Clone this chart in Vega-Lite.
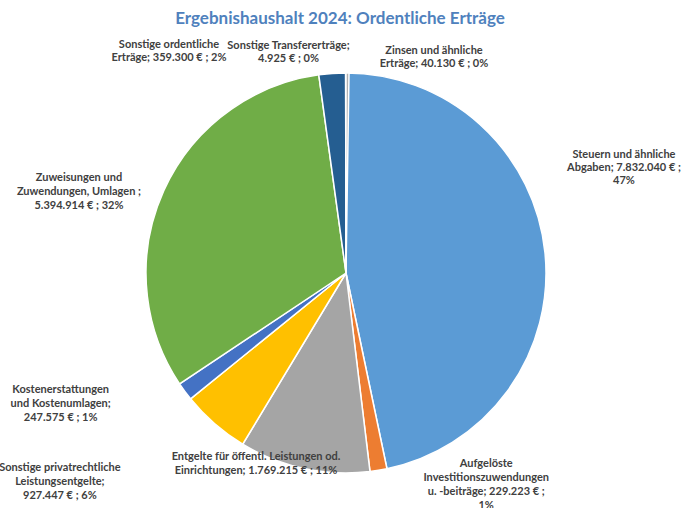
{
  "$schema": "https://vega.github.io/schema/vega-lite/v6.json",
  "width": 670,
  "height": 470,
  "autosize": {"type": "none"},
  "padding": {"left": 11, "right": 0, "top": 38, "bottom": 0},
  "background": "white",
  "title": {
    "text": "Ergebnishaushalt 2024: Ordentliche Erträge",
    "font": "Lato",
    "fontSize": 17,
    "fontWeight": "bold",
    "color": "#4F81BD",
    "offset": 10,
    "anchor": "middle",
    "frame": "group",
    "dx": -6
  },
  "config": {"view": {"stroke": null}},
  "data": {
    "values": [
      {"name": "Steuern", "value": 7832040, "order": 1, "label": "Steuern und ähnliche\nAbgaben;  7.832.040 € ;\n47%"},
      {"name": "Aufgelöste", "value": 229223, "order": 2, "label": "Aufgelöste\nInvestitionszuwendungen\nu. -beiträge;  229.223 € ;\n1%"},
      {"name": "Entgelte", "value": 1769215, "order": 3, "label": "Entgelte für öffentl. Leistungen od.\nEinrichtungen;  1.769.215 € ; 11%"},
      {"name": "Privatrechtlich", "value": 927447, "order": 4, "label": "Sonstige privatrechtliche\nLeistungsentgelte;\n927.447 € ; 6%"},
      {"name": "Kostenerstattungen", "value": 247575, "order": 5, "label": "Kostenerstattungen\nund Kostenumlagen;\n247.575 € ; 1%"},
      {"name": "Zuweisungen", "value": 5394914, "order": 6, "label": "Zuweisungen und\nZuwendungen, Umlagen ;\n5.394.914 € ; 32%"},
      {"name": "Sonstige ordentliche", "value": 359300, "order": 7, "label": "Sonstige ordentliche\nErträge;  359.300 € ; 2%"},
      {"name": "Transfer", "value": 4925, "order": 8, "label": "Sonstige Transfererträge;\n4.925 € ; 0%"},
      {"name": "Zinsen", "value": 40130, "order": 9, "label": "Zinsen und ähnliche\nErträge;  40.130 € ; 0%"}
    ]
  },
  "transform": [
    {"stack": "value", "groupby": [], "sort": [{"field": "order", "order": "ascending"}], "as": ["v0", "v1"]}
  ],
  "encoding": {
    "theta": {"field": "v0", "type": "quantitative", "stack": null}
  },
  "layer": [
    {
      "mark": {"type": "arc", "outerRadius": 200, "stroke": "white", "strokeWidth": 1.5},
      "encoding": {
        "theta2": {"field": "v1"},
        "color": {
          "field": "name",
          "type": "nominal",
          "legend": null,
          "scale": {
            "domain": ["Steuern", "Aufgelöste", "Entgelte", "Privatrechtlich", "Kostenerstattungen", "Zuweisungen", "Sonstige ordentliche", "Transfer", "Zinsen"],
            "range": ["#5B9BD5", "#ED7D31", "#A5A5A5", "#FFC000", "#4472C4", "#70AD47", "#255E91", "#9E480E", "#B0B0B0"]
          }
        }
      }
    },
    {
      "transform": [{"filter": "datum.name === 'Steuern'"}],
      "mark": {"type": "text", "radius": 250, "dx": 278, "dy": 132, "font": "Lato", "fontSize": 11, "fontWeight": "bold", "color": "#404040", "lineBreak": "\n", "lineHeight": 13, "align": "center", "baseline": "middle"},
      "encoding": {"text": {"field": "label"}}
    },
    {
      "transform": [{"filter": "datum.name === 'Aufgelöste'"}],
      "mark": {"type": "text", "radius": 250, "dx": 89, "dy": -54, "font": "Lato", "fontSize": 11, "fontWeight": "bold", "color": "#404040", "lineBreak": "\n", "lineHeight": 14, "align": "center", "baseline": "middle"},
      "encoding": {"text": {"field": "label"}}
    },
    {
      "transform": [{"filter": "datum.name === 'Entgelte'"}],
      "mark": {"type": "text", "radius": 250, "dx": -120, "dy": -64, "font": "Lato", "fontSize": 11, "fontWeight": "bold", "color": "#404040", "lineBreak": "\n", "lineHeight": 14, "align": "center", "baseline": "middle"},
      "encoding": {"text": {"field": "label"}}
    },
    {
      "transform": [{"filter": "datum.name === 'Privatrechtlich'"}],
      "mark": {"type": "text", "radius": 250, "dx": -157, "dy": -19, "font": "Lato", "fontSize": 11, "fontWeight": "bold", "color": "#404040", "lineBreak": "\n", "lineHeight": 14, "align": "center", "baseline": "middle"},
      "encoding": {"text": {"field": "label"}}
    },
    {
      "transform": [{"filter": "datum.name === 'Kostenerstattungen'"}],
      "mark": {"type": "text", "radius": 250, "dx": -91, "dy": -40, "font": "Lato", "fontSize": 11, "fontWeight": "bold", "color": "#404040", "lineBreak": "\n", "lineHeight": 14, "align": "center", "baseline": "middle"},
      "encoding": {"text": {"field": "label"}}
    },
    {
      "transform": [{"filter": "datum.name === 'Zuweisungen'"}],
      "mark": {"type": "text", "radius": 250, "dx": -59, "dy": -234, "font": "Lato", "fontSize": 11, "fontWeight": "bold", "color": "#404040", "lineBreak": "\n", "lineHeight": 14, "align": "center", "baseline": "middle"},
      "encoding": {"text": {"field": "label"}}
    },
    {
      "transform": [{"filter": "datum.name === 'Sonstige ordentliche'"}],
      "mark": {"type": "text", "radius": 250, "dx": -143, "dy": 20, "font": "Lato", "fontSize": 11, "fontWeight": "bold", "color": "#404040", "lineBreak": "\n", "lineHeight": 13, "align": "center", "baseline": "middle"},
      "encoding": {"text": {"field": "label"}}
    },
    {
      "transform": [{"filter": "datum.name === 'Transfer'"}],
      "mark": {"type": "text", "radius": 250, "dx": -57, "dy": 23, "font": "Lato", "fontSize": 11, "fontWeight": "bold", "color": "#404040", "lineBreak": "\n", "lineHeight": 13, "align": "center", "baseline": "middle"},
      "encoding": {"text": {"field": "label"}}
    },
    {
      "transform": [{"filter": "datum.name === 'Zinsen'"}],
      "mark": {"type": "text", "radius": 250, "dx": 88, "dy": 28, "font": "Lato", "fontSize": 11, "fontWeight": "bold", "color": "#404040", "lineBreak": "\n", "lineHeight": 13, "align": "center", "baseline": "middle"},
      "encoding": {"text": {"field": "label"}}
    }
  ]
}
